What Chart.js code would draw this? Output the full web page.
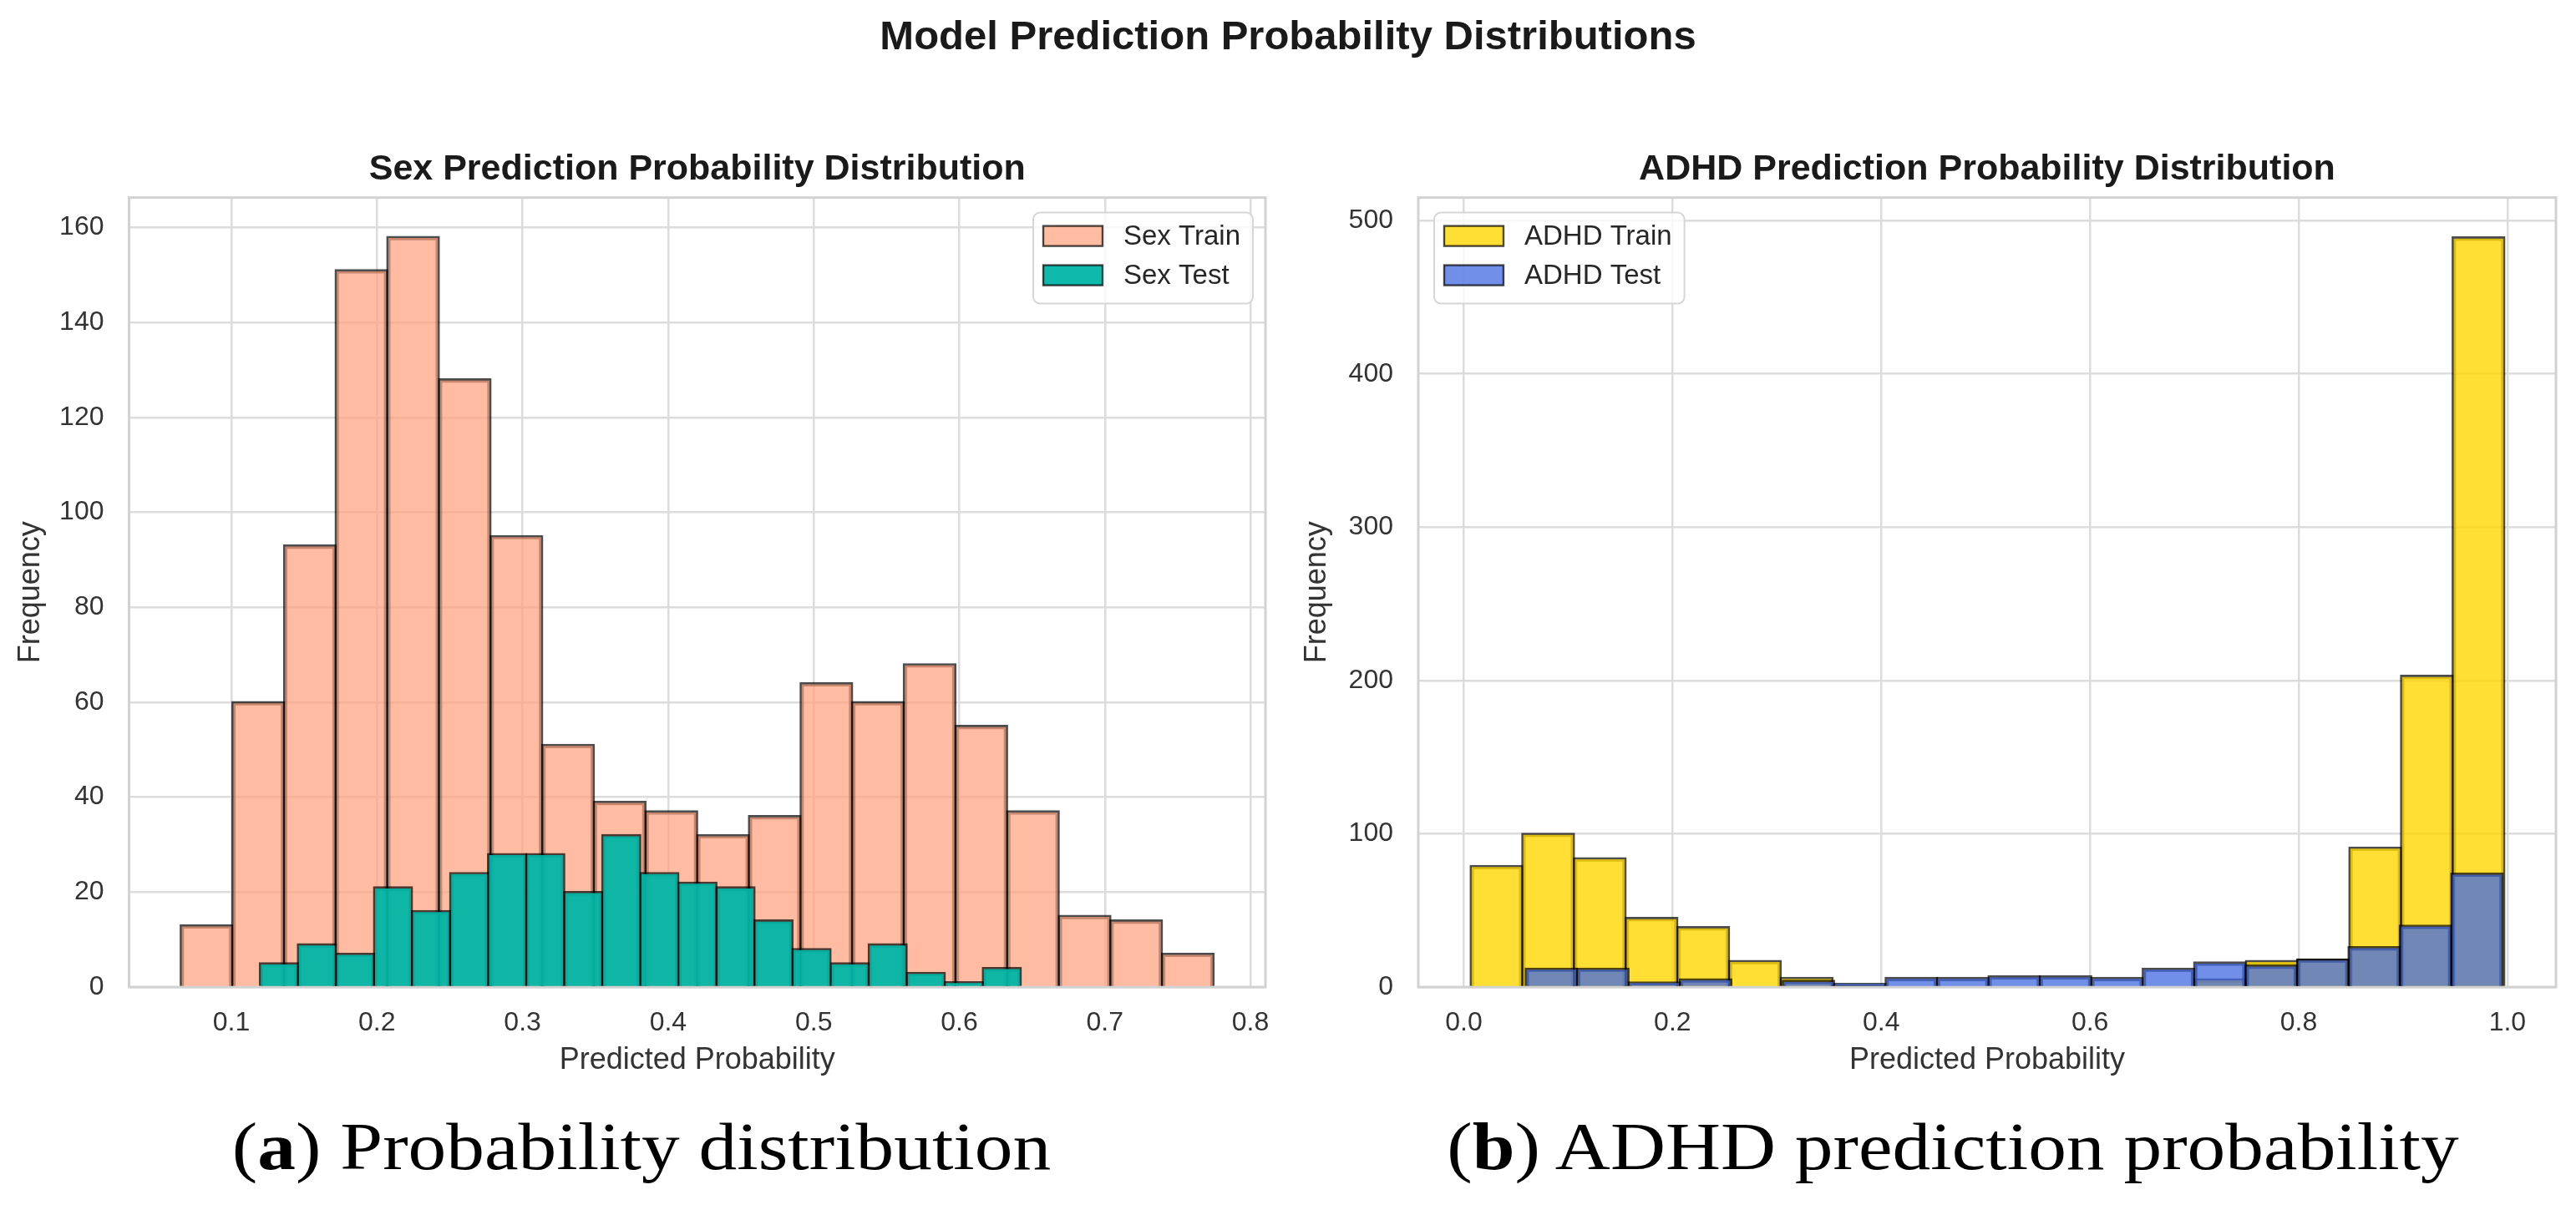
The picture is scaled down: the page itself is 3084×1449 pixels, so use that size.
<!DOCTYPE html>
<html>
<head>
<meta charset="utf-8">
<script src="https://cdn.jsdelivr.net/npm/chart.js@4.4.0/dist/chart.umd.min.js"></script>
<style>
  html, body { margin: 0; padding: 0; background: #ffffff; }
  body { width: 3084px; height: 1449px; position: relative; overflow: hidden;
         font-family: 'Liberation Sans', Arial, sans-serif; }
  #suptitle { position: absolute; left: 0; top: 18px; width: 3084px; text-align: center;
              font-weight: bold; font-size: 49px; line-height: 1; color: #1a1a1a; }
  canvas { position: absolute; }
  #sexChart { left: 0; top: 150px; }
  #adhdChart { left: 1545px; top: 150px; }
  .cap { position: absolute; top: 1333px; font-family: 'Liberation Serif', 'Times New Roman', serif;
         font-size: 80px; line-height: 1; color: #000; white-space: nowrap;
         transform: translateX(-50%) scaleX(1.143); }
</style>
</head>
<body>
<div id="suptitle">Model Prediction Probability Distributions</div>
<canvas id="sexChart" width="1545" height="1150"></canvas>
<canvas id="adhdChart" width="1539" height="1150"></canvas>
<div class="cap" style="left:768px">(<b>a</b>) Probability distribution</div>
<div class="cap" style="left:2338px">(<b>b</b>) ADHD prediction probability</div>

<script>
// ---------------- data ----------------
const sexXTicks = [0.1, 0.2, 0.3, 0.4, 0.5, 0.6, 0.7, 0.8];
const sexYTicks = [0, 20, 40, 60, 80, 100, 120, 140, 160];
const adhdXTicks = [0.0, 0.2, 0.4, 0.6, 0.8, 1.0];
const adhdYTicks = [0, 100, 200, 300, 400, 500];

// bin centres (predicted probability) and counts
const sexTrainBins = [0.0829, 0.1184, 0.1539, 0.1893, 0.2248, 0.2603, 0.2958, 0.3313, 0.3667, 0.4022,
                      0.4377, 0.4732, 0.5087, 0.5441, 0.5796, 0.6151, 0.6506, 0.6861, 0.7215, 0.7570];
const sexTrainCounts = [13, 60, 93, 151, 158, 128, 95, 51, 39, 37, 32, 36, 64, 60, 68, 55, 37, 15, 14, 7];

const sexTestBins = [0.1326, 0.1587, 0.1849, 0.2110, 0.2371, 0.2633, 0.2894, 0.3156, 0.3417, 0.3678,
                     0.3940, 0.4201, 0.4463, 0.4724, 0.4985, 0.5247, 0.5508, 0.5770, 0.6031, 0.6292];
const sexTestCounts = [5, 9, 7, 21, 16, 24, 28, 28, 20, 32, 24, 22, 21, 14, 8, 5, 9, 3, 1, 4];

const adhdTrainBins = [0.0313, 0.0808, 0.1303, 0.1799, 0.2294, 0.2789, 0.3284, 0.3780, 0.4275, 0.4770,
                       0.5266, 0.5761, 0.6256, 0.6752, 0.7247, 0.7742, 0.8237, 0.8733, 0.9228, 0.9723];
const adhdTrainCounts = [79, 100, 84, 45, 39, 17, 6, 1, 0, 0, 0, 0, 0, 0, 5, 17, 18, 91, 203, 489];

const adhdTestBins = [0.0839, 0.1332, 0.1825, 0.2317, 0.2810, 0.3303, 0.3796, 0.4288, 0.4781, 0.5274,
                      0.5766, 0.6259, 0.6752, 0.7244, 0.7737, 0.8230, 0.8723, 0.9215, 0.9708];
const adhdTestCounts = [12, 12, 3, 5, 0, 4, 2, 6, 6, 7, 7, 6, 12, 16, 14, 18, 26, 40, 74];

// ---------------- styling ----------------
Chart.defaults.font.family = "'Liberation Sans', Arial, sans-serif";
Chart.defaults.color = '#333333';

const EDGE = 'rgba(0,0,0,0.7)';
const GRID = '#dcdcdc';

// light-grey frame around the plotting area (matplotlib spines)
const framePlugin = {
  id: 'axesFrame',
  beforeDatasetsDraw(chart, args, o) {
    const { ctx, chartArea: a } = chart;
    ctx.save();
    ctx.strokeStyle = o.color || '#d0d0d0';
    ctx.lineWidth = o.width || 3;
    ctx.strokeRect(a.left, a.top, a.right - a.left, a.bottom - a.top);
    ctx.restore();
  }
};

// framed legend placed inside the plotting area
const boxLegendPlugin = {
  id: 'boxLegend',
  afterDraw(chart, args, o) {
    const { ctx, chartArea: a } = chart;
    const items = chart.data.datasets.map(d => ({ text: d.label, fill: d.backgroundColor, stroke: d.borderColor }));
    ctx.save();
    ctx.font = o.fontSize + "px 'Liberation Sans', Arial, sans-serif";
    const textW = Math.max(...items.map(it => ctx.measureText(it.text).width));
    const w = o.padLeft + o.patchW + o.gap + textW + o.padRight;
    const h = o.padTop + o.rowH * (items.length - 1) + o.patchH + o.padBottom;
    const x = o.corner === 'right' ? a.right - o.insetX - w : a.left + o.insetX;
    const y = a.top + o.insetY;
    const r = 8;
    ctx.beginPath();
    ctx.moveTo(x + r, y);
    ctx.arcTo(x + w, y, x + w, y + h, r);
    ctx.arcTo(x + w, y + h, x, y + h, r);
    ctx.arcTo(x, y + h, x, y, r);
    ctx.arcTo(x, y, x + w, y, r);
    ctx.closePath();
    ctx.fillStyle = 'rgba(255,255,255,0.8)';
    ctx.fill();
    ctx.strokeStyle = '#d6d6d6';
    ctx.lineWidth = 2;
    ctx.stroke();
    items.forEach((it, i) => {
      const py = y + o.padTop + i * o.rowH;
      const px = x + o.padLeft;
      ctx.fillStyle = it.fill;
      ctx.fillRect(px, py, o.patchW, o.patchH);
      ctx.strokeStyle = it.stroke;
      ctx.lineWidth = 2.4;
      ctx.strokeRect(px, py, o.patchW, o.patchH);
      ctx.fillStyle = '#262626';
      ctx.textAlign = 'left';
      ctx.textBaseline = 'middle';
      ctx.fillText(it.text, px + o.patchW + o.gap, py + o.patchH / 2 + 1);
    });
    ctx.restore();
  }
};

function toPoints(bins, counts) {
  return bins.map((b, i) => ({ x: b, y: counts[i] }));
}

function histChart(id, c) {
  const barCommon = {
    borderColor: EDGE, borderWidth: 2.6, inflateAmount: 1.3,
    barPercentage: 1, categoryPercentage: 1, grouped: false
  };
  return new Chart(document.getElementById(id), {
    type: 'bar',
    data: {
      datasets: [
        Object.assign({ label: c.trainLabel, data: toPoints(c.trainBins, c.trainCounts),
                        xAxisID: 'x', backgroundColor: c.trainColor, order: 2 }, barCommon),
        Object.assign({ label: c.testLabel, data: toPoints(c.testBins, c.testCounts),
                        xAxisID: 'x2', backgroundColor: c.testColor, order: 1 }, barCommon)
      ]
    },
    options: {
      responsive: false,
      animation: false,
      devicePixelRatio: 1,
      layout: { padding: { left: 0, right: c.padRight, top: 0, bottom: 0 } },
      plugins: {
        legend: { display: false },
        tooltip: { enabled: false },
        title: {
          display: true, text: c.title, fullSize: false, color: '#1a1a1a',
          font: { size: 43, weight: 'bold' }, padding: { top: 27, bottom: 8 }
        },
        axesFrame: { color: '#d2d2d2', width: 3 },
        boxLegend: {
          corner: c.legendCorner, insetX: c.legendInset, insetY: 18, fontSize: 33,
          padLeft: 12, patchW: 71, patchH: 24, gap: 25, padRight: 15,
          padTop: 16, rowH: 47, padBottom: 22
        }
      },
      scales: {
        x: {
          type: 'linear', min: c.xMin, max: c.xMax, offset: false,
          grid: { offset: false, color: GRID, lineWidth: 2.5, drawTicks: false },
          border: { display: false },
          afterBuildTicks: s => { s.ticks = c.xTicks.map(v => ({ value: v })); },
          ticks: { font: { size: 32 }, color: '#333333', padding: 24, maxRotation: 0,
                   autoSkip: false, callback: v => Number(v).toFixed(1) },
          title: { display: true, text: 'Predicted Probability', color: '#333333',
                   font: { size: 36 }, padding: { top: 0, bottom: 8 } },
          afterFit: s => { s.height = 118; }
        },
        x2: {
          type: 'linear', display: false, min: c.xMin, max: c.xMax, offset: false,
          grid: { offset: false },
          afterBuildTicks: s => { s.ticks = c.xTicks.map(v => ({ value: v })); }
        },
        y: {
          min: 0, max: c.yMax,
          grid: { color: GRID, lineWidth: 2.5, drawTicks: false },
          border: { display: false },
          afterBuildTicks: s => { s.ticks = c.yTicks.map(v => ({ value: v })); },
          ticks: { font: { size: 32 }, color: '#333333', padding: 30, autoSkip: false },
          title: { display: true, text: 'Frequency', color: '#333333',
                   font: { size: 36 }, padding: { top: c.yTitlePad, bottom: 0 } },
          afterFit: s => { s.width = c.yAxisW; }
        }
      }
    },
    plugins: [framePlugin, boxLegendPlugin]
  });
}

histChart('sexChart', {
  title: 'Sex Prediction Probability Distribution',
  trainLabel: 'Sex Train', testLabel: 'Sex Test',
  trainBins: sexTrainBins, trainCounts: sexTrainCounts,
  testBins: sexTestBins, testCounts: sexTestCounts,
  trainColor: 'rgba(255,160,122,0.7)', testColor: 'rgba(0,181,166,0.94)',
  xMin: 0.0297, xMax: 0.8103, yMax: 166.3,
  xTicks: sexXTicks, yTicks: sexYTicks,
  yAxisW: 154.5, padRight: 30, yTitlePad: 15,
  legendCorner: 'right', legendInset: 15
});

histChart('adhdChart', {
  title: 'ADHD Prediction Probability Distribution',
  trainLabel: 'ADHD Train', testLabel: 'ADHD Test',
  trainBins: adhdTrainBins, trainCounts: adhdTrainCounts,
  testBins: adhdTestBins, testCounts: adhdTestCounts,
  trainColor: 'rgba(255,215,0,0.8)', testColor: 'rgba(65,105,225,0.75)',
  xMin: -0.0436, xMax: 1.0465, yMax: 515,
  xTicks: adhdXTicks, yTicks: adhdYTicks,
  yAxisW: 153, padRight: 24, yTitlePad: 10,
  legendCorner: 'left', legendInset: 19
});
</script>
</body>
</html>
